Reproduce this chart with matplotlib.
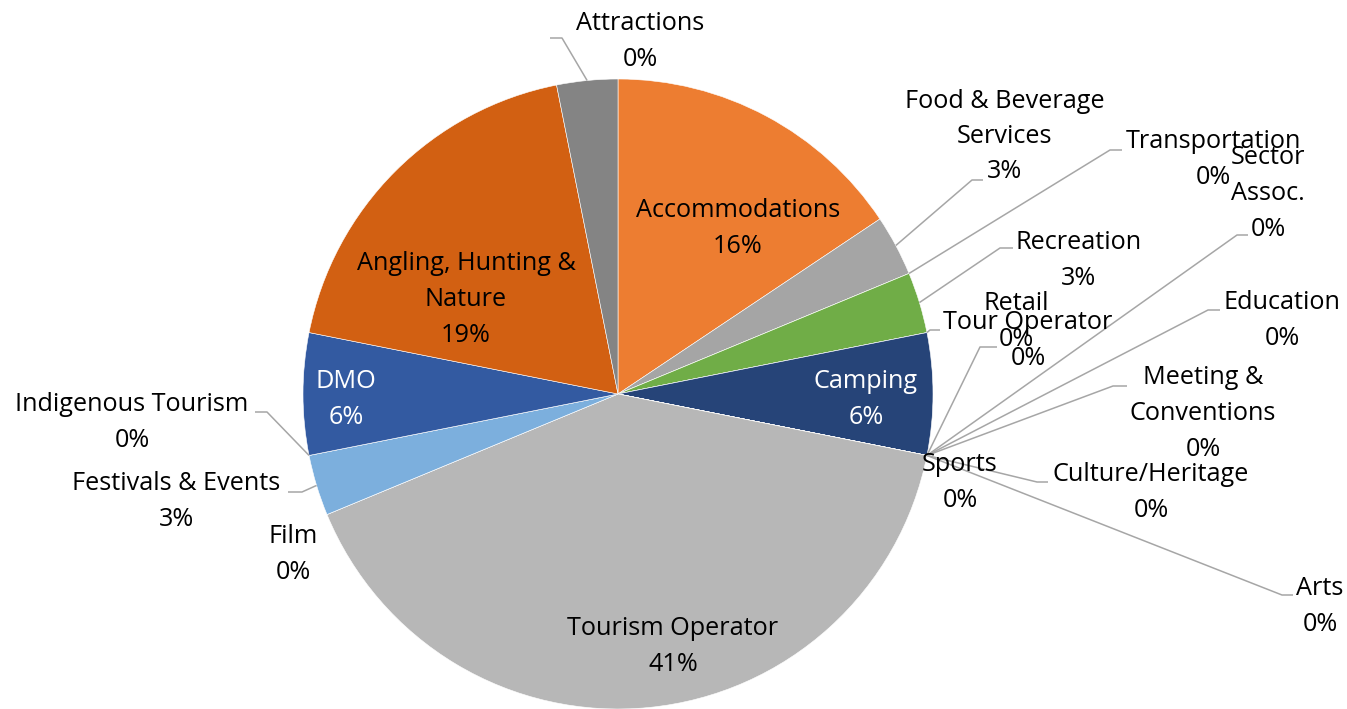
import matplotlib
matplotlib.use("Agg")
import matplotlib.pyplot as plt
import numpy as np

# ---------------- data ----------------
categories = ["Accommodations", "Food & Beverage Services", "Transportation", "Recreation",
              "Tour Operator", "Camping", "Sector Assoc.", "Education", "Meeting & Conventions",
              "Culture/Heritage", "Arts", "Sports", "Retail", "Tourism Operator", "Film",
              "Festivals & Events", "Indigenous Tourism", "DMO", "Angling, Hunting & Nature",
              "Attractions"]
counts = [5, 1, 0, 1, 0, 2, 0, 0, 0, 0, 0, 0, 0, 13, 0, 1, 0, 2, 6, 1]
pct_labels = ["16%", "3%", "0%", "3%", "0%", "6%", "0%", "0%", "0%", "0%", "0%", "0%", "0%",
              "41%", "0%", "3%", "0%", "6%", "19%", "0%"]
colors = ["#ED7D31", "#A5A5A5", "#FFC000", "#70AD47", "#5B9BD5", "#264478", "#9E480E",
          "#636363", "#997300", "#255E91", "#43682B", "#698ED0", "#F1975A", "#B7B7B7",
          "#FFCD33", "#7CAFDD", "#8CC168", "#335AA1", "#D26012", "#848484"]

# ---------------- layout (pixel coordinates) ----------------
W, H = 1347, 709
CX, CY, R = 618, 394, 315
FONT = "Open Sans"
FS = 18.2
PITCH = 35.5
DY = 1.5

wrap = {"Food & Beverage Services": ["Food & Beverage", "Services"],
        "Sector Assoc.": ["Sector", "Assoc."],
        "Meeting & Conventions": ["Meeting &", "Conventions"],
        "Angling, Hunting & Nature": ["Angling, Hunting &", "Nature"]}

# label block centre
label_pos = {
    "Accommodations": (738, 227),
    "Food & Beverage Services": (1005, 135),
    "Transportation": (1213, 158),
    "Recreation": (1079, 259),
    "Tour Operator": (1028, 339),
    "Camping": (866, 398),
    "Sector Assoc.": (1268, 192),
    "Education": (1282, 319),
    "Meeting & Conventions": (1203, 412),
    "Culture/Heritage": (1151, 491),
    "Arts": (1320, 605),
    "Sports": (960, 481),
    "Retail": (1016, 320),
    "Tourism Operator": (673, 645),
    "Film": (293, 553),
    "Festivals & Events": (176, 500),
    "Indigenous Tourism": (132, 421),
    "DMO": (346, 398),
    "Angling, Hunting & Nature": (466, 298),
    "Attractions": (640, 40),
}
white_text = {"Camping", "DMO"}

# leader lines: elbow point, end point
leaders = {
    "Attractions": ((562, 38), (550, 38)),
    "Food & Beverage Services": ((972, 180), (983, 180)),
    "Transportation": ((1110, 150), (1122, 150)),
    "Sector Assoc.": ((1237, 235), (1248, 235)),
    "Recreation": ((1000, 248), (1013, 248)),
    "Retail": ((980, 347), (997, 347)),
    "Tour Operator": ((930, 330), (940, 330)),
    "Education": ((1208, 310), (1220, 310)),
    "Meeting & Conventions": ((1113, 386), (1127, 386)),
    "Culture/Heritage": ((1037, 482), (1048, 482)),
    "Arts": ((1282, 595), (1293, 595)),
    "Festivals & Events": ((302, 492), (288, 492)),
    "Indigenous Tourism": ((267, 412), (255, 412)),
}

fig = plt.figure(figsize=(W / 100, H / 100), dpi=100)
ax = fig.add_axes([0, 0, 1, 1])
wedges, _ = ax.pie(counts, colors=colors, startangle=-90, counterclock=True,
                   center=(CX, CY), radius=R,
                   wedgeprops=dict(edgecolor="white", linewidth=0.4))
ax.set_xlim(0, W)
ax.set_ylim(H, 0)
ax.set_aspect("equal")
ax.axis("off")

for w, name, pct in zip(wedges, categories, pct_labels):
    th = np.deg2rad((w.theta1 + w.theta2) / 2)
    sx, sy = CX + R * np.cos(th), CY + R * np.sin(th)
    if name in leaders:
        (ex, ey), (fx, fy) = leaders[name]
        ax.plot([sx, ex, fx], [sy, ey, fy], color="#A6A6A6", lw=1.1,
                solid_capstyle="butt", zorder=3)
    lines = wrap.get(name, [name]) + [pct]
    x, yc = label_pos[name]
    n = len(lines)
    col = "white" if name in white_text else "black"
    for i, t in enumerate(lines):
        y = yc + DY + (i - (n - 1) / 2) * PITCH
        ax.text(x, y, t, ha="center", va="center", fontsize=FS, family=FONT,
                color=col, zorder=4)

fig.savefig("out.png", dpi=100)
